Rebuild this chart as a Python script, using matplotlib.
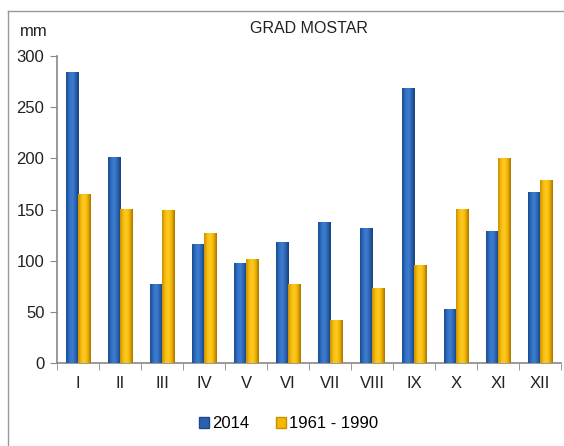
import numpy as np
import matplotlib.pyplot as plt
from matplotlib.colors import LinearSegmentedColormap
from matplotlib.lines import Line2D
from matplotlib.patches import Patch

plt.rcParams['font.family'] = ['Liberation Sans', 'DejaVu Sans']

months = ['I', 'II', 'III', 'IV', 'V', 'VI', 'VII', 'VIII', 'IX', 'X', 'XI', 'XII']
rain_2014 = [285, 201, 77, 116, 98, 118, 138, 132, 269, 53, 129, 167]
rain_1961_1990 = [165, 151, 150, 127, 102, 77, 42, 73, 96, 151, 200, 179]

blue_cmap = LinearSegmentedColormap.from_list('b', ['#1a4a8c', '#2f6fc4', '#3f7fd0', '#2a62b0', '#163f7a'])
yellow_cmap = LinearSegmentedColormap.from_list('y', ['#c98f00', '#f7bd10', '#ffcc22', '#f0b000', '#a57400'])

fig = plt.figure(figsize=(5.64, 4.46), dpi=100)
ax = fig.add_axes([0.101, 0.186, 0.894, 0.688])

x = np.arange(len(months))
w = 0.29
bars1 = ax.bar(x - w / 2, rain_2014, w, color='#2a62b0', zorder=2)
bars2 = ax.bar(x + w / 2, rain_1961_1990, w, color='#f5b800', zorder=2)

# cylinder-like shading on every bar
grad = np.linspace(0, 1, 64).reshape(1, -1)
for bars, cmap in [(bars1, blue_cmap), (bars2, yellow_cmap)]:
    for b in bars:
        x0, y0 = b.get_x(), b.get_y()
        bw, bh = b.get_width(), b.get_height()
        im = ax.imshow(grad, cmap=cmap, aspect='auto', extent=[x0, x0 + bw, y0, y0 + bh],
                       zorder=3, interpolation='bicubic')
        im.set_clip_path(b)

ax.set_xlim(-0.5, 11.5)
ax.set_ylim(0, 300)
ax.set_yticks(range(0, 301, 50))
ax.set_xticks(x)
ax.set_xticklabels(months)
ax.set_xticks(np.arange(-0.5, 12, 1), minor=True)
ax.tick_params(axis='x', which='major', length=0, pad=9, labelsize=12, colors='#222222')
ax.tick_params(axis='x', which='minor', length=5, color='#888888')
ax.tick_params(axis='y', length=5, pad=4, color='#888888', labelsize=12, labelcolor='#222222')

for s in ['top', 'right']:
    ax.spines[s].set_visible(False)
for s in ['left', 'bottom']:
    ax.spines[s].set_color('#888888')
    ax.spines[s].set_linewidth(1.2)

fig.text(0.548, 0.937, 'GRAD MOSTAR', ha='center', va='center', fontsize=11.5, color='#222222')
fig.text(0.035, 0.93, 'mm', ha='left', va='center', fontsize=12, color='#222222')

# outer frame (top and left edges only)
fig.add_artist(Line2D([0.014, 1.0], [0.975, 0.975], color='#999999', lw=1))
fig.add_artist(Line2D([0.014, 0.014], [0.0, 0.975], color='#999999', lw=1))

handles = [Patch(facecolor='#2a62b0', edgecolor='#1a4a8c'),
           Patch(facecolor='#f5b800', edgecolor='#c98f00')]
fig.legend(handles, ['2014', '1961 - 1990'], loc='center', bbox_to_anchor=(0.512, 0.05),
           ncol=2, frameon=False, fontsize=12, handlelength=0.6, handleheight=0.6,
           handletextpad=0.2, columnspacing=1.6)

fig.savefig('out.png', dpi=100)
